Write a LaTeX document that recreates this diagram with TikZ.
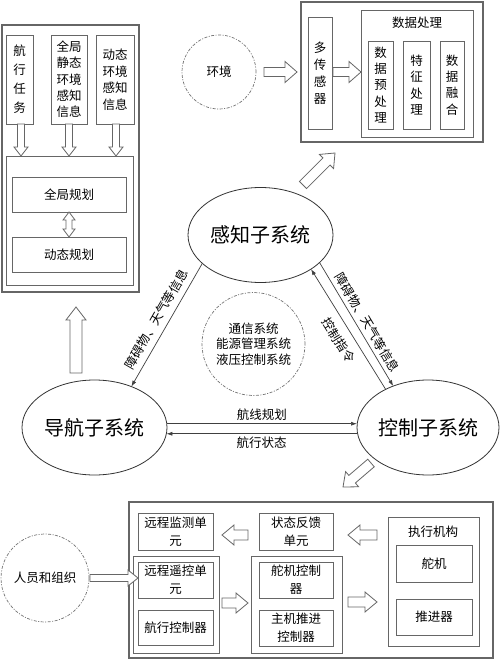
\documentclass[tikz,border=0pt]{standalone}
\usepackage{fontspec}
\setmainfont{Noto Sans CJK SC}
\usetikzlibrary{shapes.geometric,calc,arrows.meta}
% hollow single arrow: start, end, shaft half width, head half width, head length
\newcommand{\harrow}[5]{%
  \coordinate (hb) at ($(#2)!#5!(#1)$);
  \draw[hollow] ($(#1)!#3!90:(#2)$) -- ($(hb)!#3!-90:(#1)$) -- ($(hb)!#4!-90:(#1)$) -- (#2)
    -- ($(hb)!#4!90:(#1)$) -- ($(hb)!#3!90:(#1)$) -- ($(#1)!#3!-90:(#2)$) -- cycle;}
% hollow double arrow
\newcommand{\hdarrow}[5]{%
  \coordinate (hb) at ($(#2)!#5!(#1)$);
  \coordinate (ha) at ($(#1)!#5!(#2)$);
  \draw[hollow] (#1) -- ($(ha)!#4!90:(#2)$) -- ($(ha)!#3!90:(#2)$) -- ($(hb)!#3!-90:(#1)$)
    -- ($(hb)!#4!-90:(#1)$) -- (#2) -- ($(hb)!#4!90:(#1)$) -- ($(hb)!#3!90:(#1)$)
    -- ($(ha)!#3!-90:(#2)$) -- ($(ha)!#4!-90:(#2)$) -- cycle;}
\begin{document}
\begin{tikzpicture}[x=1pt,y=-1pt,
  box/.style={draw=black!60, line width=0.9pt, fill=white, inner sep=0pt, outer sep=0pt, align=center, font=\fontsize{12.5}{17}\selectfont},
  panel/.style={box, line width=1.6pt},
  sys/.style={ellipse, draw=black!80, line width=0.8pt, fill=white, inner sep=0pt, outer sep=0pt, minimum width=145pt, minimum height=95pt, font=\fontsize{20}{24}\selectfont},
  dcirc/.style={circle, draw=black!55, line width=0.7pt, dash pattern=on 3pt off 1.5pt on 1pt off 1.5pt, inner sep=0pt, outer sep=0pt, align=center, font=\fontsize{12.5}{15.5}\selectfont},
  hollow/.style={draw=black!60, line width=0.8pt, fill=white, line join=miter},
  link/.style={draw=black!75, line width=0.7pt, -{Latex[length=6pt,width=4pt]}},
  lbl/.style={font=\fontsize{12.5}{14}\selectfont, inner sep=2.5pt},
  ttl/.style={font=\fontsize{12.5}{15}\selectfont, inner sep=0pt},
]
\path[use as bounding box, fill=white] (0,0) rectangle (500,660);

% ---------- navigation panel (top left) ----------
\node[panel, minimum width=137pt, minimum height=267pt] (navpanel) at (70.5,158.5) {};
\node[box, minimum width=27pt, minimum height=89pt, font=\fontsize{12.5}{19}\selectfont] (t1) at (19.5,79.5) {航\\行\\任\\务};
\node[box, minimum width=36pt, minimum height=89pt, font=\fontsize{12.5}{16.3}\selectfont] (t2) at (69,79.5) {全局\\静态\\环境\\感知\\信息};
\node[box, minimum width=38pt, minimum height=89pt, font=\fontsize{12.5}{16.5}\selectfont] (t3) at (115,79.5) {动态\\环境\\感知\\信息};
\node[box, minimum width=127pt, minimum height=129pt] (plan) at (69.5,220.5) {};
\node[box, minimum width=114pt, minimum height=35pt] (gp) at (69,194.5) {全局规划};
\node[box, minimum width=114pt, minimum height=35pt] (dp) at (69,254.5) {动态规划};
\coordinate (a1s) at ($(t1.south)+(1.5,0)$);
\coordinate (a1e) at (a1s |- plan.north);
\coordinate (a2s) at (t2.south);
\coordinate (a2e) at (a2s |- plan.north);
\coordinate (a3s) at ($(t3.south)+(1,0)$);
\coordinate (a3e) at (a3s |- plan.north);
\harrow{a1s}{a1e}{3.5pt}{7pt}{9pt}
\harrow{a2s}{a2e}{3.5pt}{7pt}{9pt}
\harrow{a3s}{a3e}{3.5pt}{7pt}{9pt}
\hdarrow{gp.south}{dp.north}{3pt}{6pt}{8pt}

% ---------- perception panel (top right) ----------
\node[panel, minimum width=182pt, minimum height=140pt] (perpanel) at (392,72) {};
\node[box, minimum width=24pt, minimum height=112pt, font=\fontsize{12.5}{17}\selectfont] (ms) at (320,73) {多\\传\\感\\器};
\node[box, minimum width=112pt, minimum height=127pt] (dproc) at (417,73.5) {};
\node[ttl] (dptitle) at (417,23) {数据处理};
\node[box, minimum width=25pt, minimum height=88pt, font=\fontsize{12.5}{16.3}\selectfont] (d1) at (380.5,85) {数\\据\\预\\处\\理};
\node[box, minimum width=27pt, minimum height=88pt, font=\fontsize{12.5}{16.3}\selectfont] (d2) at (416.5,85) {特\\征\\处\\理};
\node[box, minimum width=24pt, minimum height=88pt, font=\fontsize{12.5}{16.3}\selectfont] (d3) at (452,85) {数\\据\\融\\合};
\node[dcirc, minimum size=74pt] (env) at (219,72) {环境};
\coordinate (e1s) at ($(env.east)+(8,0)$);
\coordinate (e1e) at ($(perpanel.west)+(-4,0)$);
\harrow{e1s}{e1e}{4.5pt}{10.5pt}{12pt}
\coordinate (e2s) at ($(ms.east)+(1,-1)$);
\coordinate (e2e) at (dproc.west |- e2s);
\harrow{e2s}{e2e}{4.5pt}{10.5pt}{12pt}

% ---------- subsystems ----------
\node[sys] (perc) at (260.5,235) {感知子系统};
\node[sys] (nav) at (94.5,427.5) {导航子系统};
\node[sys, minimum width=142pt] (ctrl) at (428,427.5) {控制子系统};
\node[dcirc, minimum size=103pt] (comm) at (253.5,344) {通信系统\\能源管理系统\\液压控制系统};

\draw[link] (perc.206) -- node[lbl, sloped, above, inner sep=6pt] {障碍物、天气等信息} (nav.48);
\draw[link] (ctrl.138) -- node[lbl, sloped, below, inner sep=8pt, pos=0.47] {控制指令} (perc.326);
\draw[link] (perc.335) -- node[lbl, sloped, above, inner sep=4pt, pos=0.53] {障碍物、天气等信息} (ctrl.130);
\draw[link] (nav.3) -- node[lbl, above] {航线规划} (nav.3 -| ctrl.west);
\draw[link] (ctrl.west |- nav.355) -- node[lbl, below] {航行状态} (nav.355);

\coordinate (u1s) at (76,373);
\coordinate (u1e) at (76,307);
\harrow{u1s}{u1e}{6pt}{10pt}{13pt}
\coordinate (g1s) at (303,185);
\coordinate (g1e) at (335,153);
\harrow{g1s}{g1e}{5pt}{10pt}{12pt}
\coordinate (g2s) at (371,463);
\coordinate (g2e) at (343,487);
\harrow{g2s}{g2e}{5pt}{10pt}{12pt}

% ---------- control panel (bottom) ----------
\node[panel, line width=1.4pt, minimum width=364pt, minimum height=156pt] (botpanel) at (311,580) {};
\node[box, minimum width=75pt, minimum height=37pt, font=\fontsize{12.5}{18}\selectfont] (rm) at (175.5,531.5) {远程监测单\\元};
\node[box, minimum width=86pt, minimum height=97pt] (grp1) at (176,604.5) {};
\node[box, minimum width=75pt, minimum height=36pt, font=\fontsize{12.5}{18}\selectfont] (rc) at (175.5,580) {远程遥控单\\元};
\node[box, minimum width=75pt, minimum height=35pt] (nc) at (175.5,627.5) {航行控制器};
\node[box, minimum width=74pt, minimum height=37pt, font=\fontsize{12.5}{18}\selectfont] (sf) at (296,531.5) {状态反馈\\单元};
\node[box, minimum width=91pt, minimum height=97pt] (grp2) at (296.5,604.5) {};
\node[box, minimum width=74pt, minimum height=36pt, font=\fontsize{12.5}{18}\selectfont] (rdc) at (296,580) {舵机控制\\器};
\node[box, minimum width=74pt, minimum height=36pt, font=\fontsize{12.5}{18}\selectfont] (mec) at (296,628) {主机推进\\控制器};
\node[box, minimum width=91pt, minimum height=129pt] (act) at (433.5,581.5) {};
\node[ttl] (acttitle) at (433,532) {执行机构};
\node[box, minimum width=76pt, minimum height=37pt] (rud) at (434,563.5) {舵机};
\node[box, minimum width=76pt, minimum height=36pt] (prop) at (434,617) {推进器};
\node[dcirc, minimum size=88pt] (ppl) at (45,578) {人员和组织};

\coordinate (p1s) at ($(ppl.east)+(1,0)$);
\coordinate (p1e) at (rc.west |- p1s);
\harrow{p1s}{p1e}{3.5pt}{8pt}{10pt}
\coordinate (f1s) at (248,535);
\coordinate (f1e) at (222,535);
\harrow{f1s}{f1e}{5pt}{10pt}{12pt}
\coordinate (f2s) at (222,603);
\coordinate (f2e) at (248,603);
\harrow{f2s}{f2e}{5pt}{10pt}{12pt}
\coordinate (f3s) at (348,602);
\coordinate (f3e) at (377,602);
\harrow{f3s}{f3e}{5pt}{10pt}{12pt}
\coordinate (f4s) at (377,535);
\coordinate (f4e) at (348,535);
\harrow{f4s}{f4e}{5pt}{10pt}{12pt}
\end{tikzpicture}
\end{document}
